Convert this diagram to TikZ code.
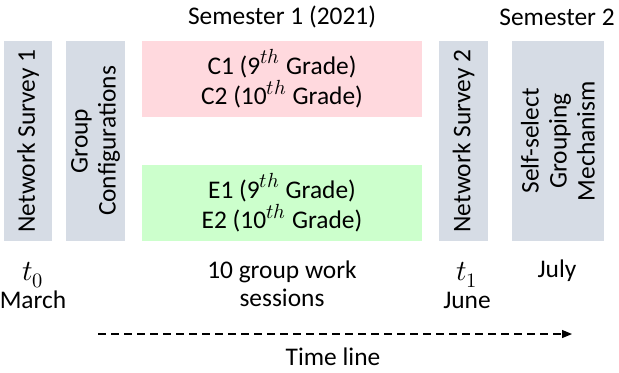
\documentclass[tikz,border=0pt]{standalone}
\usepackage{fontspec}
\usepackage{unicode-math}
\setmainfont{Carlito}
\setmathfont{Latin Modern Math}[Scale=1.15]
\usepackage{xcolor}
\usepackage{tikz}
\usetikzlibrary{arrows.meta, positioning}
\definecolor{surveygray}{HTML}{D6DCE5}
\definecolor{controlpink}{HTML}{FFD9DE}
\definecolor{expgreen}{HTML}{CCFFCC}

\begin{document}
\begin{tikzpicture}[
    x=0.5pt, y=-0.5pt,
    every node/.style={font=\fontsize{12.7}{14}\selectfont, text=black},
    survey/.style={rectangle, fill=surveygray, rotate=90, inner sep=0pt,
                   minimum width=100pt, align=center},
    group/.style={rectangle, inner sep=0pt, minimum width=140pt,
                  minimum height=38pt, align=center},
    label/.style={align=center, inner sep=0pt},
    timeline/.style={-{Triangle[length=5pt, width=4pt]}, dash pattern=on 4pt off 2.5pt, line width=0.55pt}
]
\useasboundingbox (0,0) rectangle (619,372);

% Semester headings
\node[label] (sem1) at (282,17) {Semester 1 (2021)};
\node[label] (sem2) at (557,17) {Semester 2};

% Survey and grouping blocks
\node[survey, minimum height=24pt] (ns1) at (28,141) {Network Survey 1};
\node[survey, minimum height=29.5pt] (conf) at (95.5,141) {Group\\Configurations};
\node[survey, minimum height=24.5pt] (ns2) at (463.5,141) {Network Survey 2};
\node[survey, minimum height=46pt] (self) at (558,141) {Self-select\\Grouping\\Mechanism};

% Control and experimental groups
\node[group, fill=controlpink] (ctrl) at (282,79) {C1 (9$^{th}$ Grade)\\C2 (10$^{th}$ Grade)};
\node[group, fill=expgreen] (exp) at (282,203) {E1 (9$^{th}$ Grade)\\E2 (10$^{th}$ Grade)};

% Time labels
\node[label] (t0) at (33,285) {$t_0$\\March};
\node[label] (sessions) at (282,284) {10 group work\\sessions};
\node[label] (t1) at (467,285) {$t_1$\\June};
\node[label] (july) at (557,271) {July};

% Time line
\coordinate (tstart) at (98,334);
\coordinate (tend) at (572,334);
\draw[timeline] (tstart) -- (tend);
\node[label] (tlabel) at (333,357) {Time line};

\end{tikzpicture}
\end{document}
